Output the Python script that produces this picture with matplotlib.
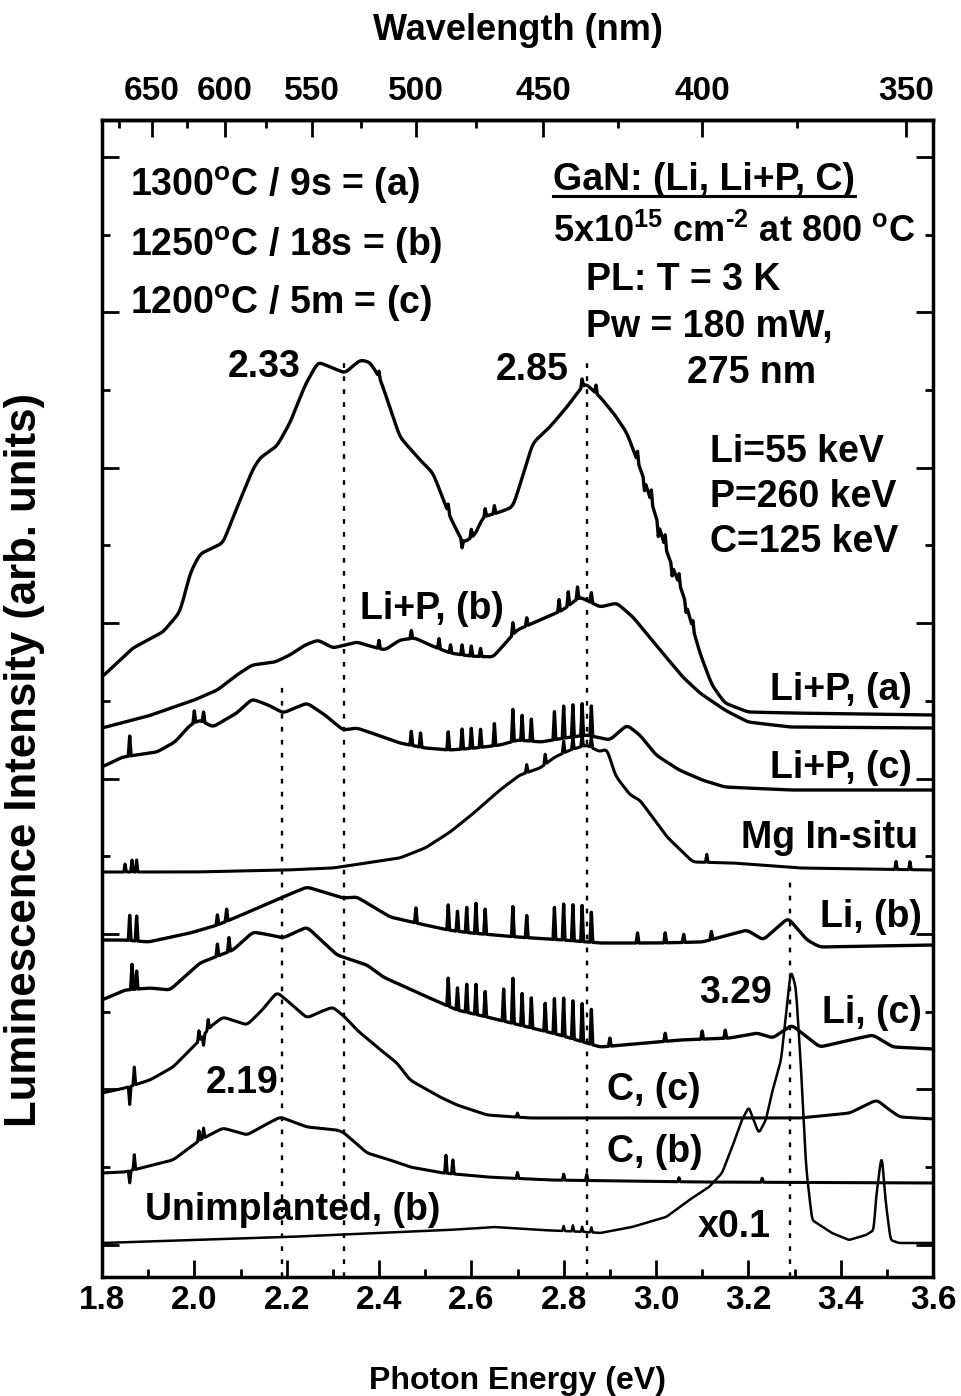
import numpy as np
import matplotlib
matplotlib.use("Agg")
import matplotlib.pyplot as plt
from matplotlib import font_manager
from matplotlib.ticker import FixedLocator, MultipleLocator, FormatStrFormatter
from matplotlib.lines import Line2D

plt.rcParams["font.family"] = ["Liberation Sans", "DejaVu Sans"]
plt.rcParams["font.weight"] = "bold"
plt.rcParams["mathtext.fontset"] = "custom"
plt.rcParams["mathtext.rm"] = "Liberation Sans:bold"
plt.rcParams["mathtext.it"] = "Liberation Sans:bold"
plt.rcParams["mathtext.bf"] = "Liberation Sans:bold"

# narrow face for the axis numbers if it is there
have_narrow = "Liberation Sans Narrow" in {f.name for f in font_manager.fontManager.ttflist}
num_family = "Liberation Sans Narrow" if have_narrow else "Liberation Sans"
num_size = 27 if have_narrow else 24

# ---- spectra (energy in eV, intensity in arb. units incl. offset)
lip_a_e = [1.800, 1.867, 1.932, 1.969, 1.991, 2.012, 2.062, 2.092, 2.127, 2.142,
           2.179, 2.207, 2.240, 2.268, 2.300, 2.326, 2.359, 2.380, 2.402, 2.445,
           2.489, 2.517, 2.554, 2.582, 2.608, 2.625, 2.662, 2.690, 2.712, 2.733,
           2.770, 2.807, 2.846, 2.879, 2.911, 2.937, 2.959, 2.980, 3.002, 3.024,
           3.058, 3.095, 3.121, 3.149, 3.199, 3.290, 3.600]
lip_a_i = [600, 629, 645, 665, 704, 723, 734, 769, 808, 819,
           831, 854, 892, 915, 909, 904, 917, 915, 899, 840,
           817, 804, 760, 734, 742, 760, 765, 770, 802, 834,
           850, 870, 894, 880, 862, 844, 817, 790, 757, 724,
           684, 624, 592, 574, 565, 564, 562]
lip_a_spk = [2.40, 2.55, 2.58, 2.60, 2.63, 2.65, 2.84, 2.87, 2.96, 2.975,
             2.99, 3.005, 3.02, 3.035, 3.05, 3.065, 3.08]
lip_a_spk_h = [6, 8, -8, 8, 8, 8, 8, 8, 10, -10, 12, -12, 12, -10, 10, -8, 8]

lip_b_e = [1.800, 1.850, 1.900, 1.950, 2.000, 2.050, 2.092, 2.125, 2.175, 2.207,
           2.240, 2.268, 2.300, 2.326, 2.352, 2.380, 2.413, 2.445, 2.478, 2.510,
           2.554, 2.597, 2.647, 2.699, 2.749, 2.798, 2.835, 2.879, 2.915, 2.950,
           3.009, 3.058, 3.095, 3.149, 3.199, 3.290, 3.600]
lip_b_i = [549, 555, 561, 569, 577, 587, 602, 612, 615, 622,
           632, 637, 629, 632, 635, 631, 627, 637, 639, 632,
           624, 621, 620, 647, 657, 667, 680, 670, 674, 660,
           627, 600, 584, 567, 555, 550, 549]
lip_b_spk = [2.40, 2.47, 2.53, 2.555, 2.58, 2.60, 2.62, 2.69, 2.72, 2.79, 2.81, 2.83, 2.86]
lip_b_spk_h = [8, 8, 10, 8, 10, 10, 8, 12, 8, 12, 14, 12, 10]

lip_c_e = [1.800, 1.845, 1.919, 1.958, 1.991, 2.012, 2.040, 2.092, 2.125, 2.160,
           2.192, 2.244, 2.283, 2.322, 2.352, 2.409, 2.445, 2.500, 2.554, 2.608,
           2.662, 2.701, 2.751, 2.801, 2.850, 2.900, 2.937, 2.965, 3.000, 3.050,
           3.100, 3.149, 3.290, 3.600]
lip_c_i = [510, 520, 525, 535, 552, 557, 550, 564, 578, 572,
           564, 574, 562, 547, 549, 540, 534, 529, 527, 529,
           532, 537, 535, 539, 542, 537, 552, 542, 522, 507,
           497, 490, 487, 487]
lip_c_spk = [1.86, 2.00, 2.02, 2.47, 2.49, 2.55, 2.58, 2.60, 2.62, 2.65,
             2.69, 2.71, 2.73, 2.78, 2.80, 2.82, 2.84, 2.86]
lip_c_spk_h = [20, 12, 10, 14, 14, 18, 20, 20, 18, 22, 32, 25, 22, 28, 32, 32, 32, 30]

mg_e = [1.800, 1.900, 2.000, 2.200, 2.300, 2.445, 2.500, 2.554, 2.600, 2.625,
        2.662, 2.705, 2.749, 2.781, 2.814, 2.850, 2.879, 2.894, 2.911, 2.944,
        2.965, 3.024, 3.080, 3.167, 3.312, 3.600]
mg_i = [405, 405, 405, 407, 409, 419, 429, 445, 462, 472,
        487, 502, 509, 520, 527, 532, 525, 529, 502, 482,
        477, 440, 415, 414, 409, 407]
mg_spk = [1.85, 1.865, 1.875, 2.72, 2.76, 2.80, 2.82, 2.84, 2.86, 3.11, 3.52, 3.55]
mg_spk_h = [8, 12, 12, 8, 10, 12, 12, 12, 10, 8, 8, 8]

li_b_e = [1.800, 1.850, 1.900, 1.991, 2.050, 2.092, 2.192, 2.244, 2.322, 2.352,
          2.424, 2.500, 2.550, 2.600, 2.700, 2.800, 2.879, 3.000, 3.100, 3.197,
          3.232, 3.286, 3.327, 3.355, 3.600]
li_b_i = [337, 337, 335, 344, 352, 360, 380, 390, 379, 380,
          360, 352, 347, 344, 340, 337, 334, 334, 335, 347,
          337, 359, 337, 330, 332]
li_b_spk = [1.86, 1.875, 2.05, 2.07, 2.48, 2.55, 2.57, 2.59, 2.61, 2.63,
            2.69, 2.72, 2.78, 2.80, 2.82, 2.84, 2.86, 2.96, 3.02, 3.06, 3.12]
li_b_spk_h = [25, 25, 10, 12, 15, 25, 20, 25, 30, 25,
              30, 22, 32, 36, 36, 36, 30, 10, 10, 8, 8]

li_c_e = [1.800, 1.850, 1.904, 1.947, 2.012, 2.084, 2.127, 2.164, 2.192, 2.244,
          2.309, 2.374, 2.409, 2.495, 2.569, 2.634, 2.705, 2.792, 2.879, 3.052,
          3.160, 3.219, 3.253, 3.294, 3.327, 3.355, 3.420, 3.470, 3.513, 3.600]
li_c_i = [277, 287, 289, 287, 314, 327, 345, 342, 339, 350,
          322, 312, 300, 282, 267, 260, 252, 242, 230, 237,
          239, 244, 239, 252, 240, 230, 237, 242, 230, 228]
li_c_spk = [1.865, 1.875, 2.05, 2.075, 2.55, 2.57, 2.59, 2.61, 2.63, 2.67,
            2.69, 2.71, 2.73, 2.76, 2.78, 2.80, 2.82, 2.84, 2.86, 2.90,
            3.02, 3.10, 3.15]
li_c_spk_h = [25, 18, 12, 14, 28, 22, 28, 30, 25, 32,
              45, 32, 30, 28, 35, 38, 38, 38, 35, 8, 8, 8, 8]

c_c_e = [1.800, 1.850, 1.904, 1.954, 2.012, 2.034, 2.062, 2.114, 2.147, 2.179,
         2.212, 2.244, 2.272, 2.300, 2.326, 2.352, 2.409, 2.439, 2.467, 2.532,
         2.569, 2.634, 2.727, 2.879, 3.312, 3.420, 3.463, 3.479, 3.500, 3.528, 3.600]
c_c_i = [184, 189, 197, 210, 237, 250, 260, 252, 267, 285,
         272, 259, 265, 270, 260, 247, 225, 214, 197, 180,
         172, 162, 159, 159, 159, 164, 174, 177, 169, 160, 158]
c_c_spk = [1.86, 1.87, 2.01, 2.02, 2.03, 2.70]
c_c_spk_h = [-18, 18, 10, -10, 10, 4]

c_b_e = [1.800, 1.850, 1.954, 2.012, 2.062, 2.114, 2.153, 2.186, 2.244, 2.309,
         2.322, 2.374, 2.424, 2.467, 2.539, 2.634, 2.770, 3.095, 3.600]
c_b_i = [104, 105, 117, 137, 149, 142, 152, 160, 150, 147,
         145, 124, 117, 110, 104, 100, 97, 95, 94]
c_b_spk = [1.86, 1.87, 2.01, 2.02, 2.545, 2.56, 2.70, 2.80, 2.85, 3.05, 3.23]
c_b_spk_h = [-12, 15, 10, 10, 18, 14, 6, 6, 6, 4, 4]

unimp_e = [1.800, 2.000, 2.200, 2.400, 2.550, 2.650, 2.750, 2.850, 2.879, 2.948,
           3.022, 3.072, 3.115, 3.143, 3.165, 3.186, 3.201, 3.217, 3.223, 3.238,
           3.251, 3.271, 3.281, 3.292, 3.303, 3.314, 3.325, 3.338, 3.381, 3.418,
           3.455, 3.472, 3.476, 3.489, 3.497, 3.508, 3.526, 3.600]
unimp_i = [34, 37, 40, 44, 47, 50, 47, 45, 44, 50,
           60, 77, 90, 104, 130, 157, 170, 150, 144, 157,
           184, 217, 260, 307, 290, 210, 110, 57, 44, 37,
           42, 47, 77, 124, 77, 37, 34, 34]
unimp_spk = [2.80, 2.82, 2.84, 2.86]
unimp_spk_h = [5, 6, 5, 5]

# peak positions marked with dotted lines (eV) and how high each line reaches
peak_e = [2.19, 2.325, 2.85, 3.29]
peak_top = [590, 922, 920, 400]

nm_major = [650, 600, 550, 500, 450, 400, 350]
nm_minor = [675, 625, 575, 525, 475, 425, 375]


def spectrum(e_pts, i_pts, spk_pos, spk_h, sig=5):
    # piecewise curve, rounded off a little, plus the narrow spikes on the traces
    e = np.arange(1.8, 3.6005, 0.001)
    y = np.interp(e, e_pts, i_pts)
    k = np.exp(-0.5 * (np.arange(-3 * sig, 3 * sig + 1) / sig) ** 2)
    y = np.convolve(np.pad(y, 3 * sig, mode="edge"), k / k.sum(), mode="valid")
    for p, h in zip(spk_pos, spk_h):
        y = y + h * np.clip(1 - np.abs(e - p) / 0.003, 0, None)
    return e, y


def e2nm(x):
    x = np.asarray(x, dtype=float)
    with np.errstate(divide="ignore"):
        return 1239.84 / x


fig = plt.figure(figsize=(9.61, 13.96), dpi=100)
ax = fig.add_axes([102 / 961, 119 / 1396, 831 / 961, 1157 / 1396])

traces = [(lip_a_e, lip_a_i, lip_a_spk, lip_a_spk_h, 2.4, 5),
          (lip_b_e, lip_b_i, lip_b_spk, lip_b_spk_h, 2.4, 5),
          (lip_c_e, lip_c_i, lip_c_spk, lip_c_spk_h, 2.4, 5),
          (mg_e, mg_i, mg_spk, mg_spk_h, 2.2, 5),
          (li_b_e, li_b_i, li_b_spk, li_b_spk_h, 2.4, 5),
          (li_c_e, li_c_i, li_c_spk, li_c_spk_h, 2.4, 5),
          (c_c_e, c_c_i, c_c_spk, c_c_spk_h, 2.2, 5),
          (c_b_e, c_b_i, c_b_spk, c_b_spk_h, 2.2, 5),
          (unimp_e, unimp_i, unimp_spk, unimp_spk_h, 1.8, 2)]
for e_pts, i_pts, sp, sh, lw, sig in traces:
    e, y = spectrum(e_pts, i_pts, sp, sh, sig)
    ax.plot(e, y, color="black", lw=lw, solid_joinstyle="round")

for pe, top in zip(peak_e, peak_top):
    ax.plot([pe, pe], [0, top], color="black", lw=1.7, ls=(0, (2, 3.5)))

ax.set_xlim(1.8, 3.6)
ax.set_ylim(0, 1157)

ax.xaxis.set_major_locator(MultipleLocator(0.2))
ax.xaxis.set_minor_locator(MultipleLocator(0.1))
ax.xaxis.set_major_formatter(FormatStrFormatter("%.1f"))
ax.yaxis.set_major_locator(FixedLocator(np.arange(32.3, 1157, 155.4)))
ax.yaxis.set_minor_locator(FixedLocator(np.arange(110.0, 1157, 155.4)))
ax.tick_params(which="both", direction="in", width=2, top=False, right=True,
               labelleft=False)
ax.tick_params(which="major", length=12, labelsize=num_size, pad=6,
               labelfontfamily=num_family)
ax.tick_params(which="minor", length=6)
for s in ax.spines.values():
    s.set_linewidth(2.5)

ax.set_xlabel("Photon Energy (eV)", fontsize=23, fontweight="bold",
              family=num_family, labelpad=36)
ax.set_ylabel("Luminescence Intensity (arb. units)", fontsize=31.5,
              fontweight="bold")
ax.yaxis.set_label_coords(-0.069, 0.447)

sec = ax.secondary_xaxis("top", functions=(e2nm, e2nm))
sec.xaxis.set_major_locator(FixedLocator(nm_major))
sec.xaxis.set_minor_locator(FixedLocator(nm_minor))
sec.xaxis.set_major_formatter(FormatStrFormatter("%d"))
sec.tick_params(which="both", direction="in", width=2)
sec.tick_params(which="major", length=12, labelsize=num_size, pad=9,
                labelfontfamily=num_family)
sec.tick_params(which="minor", length=6)
sec.spines["top"].set_linewidth(2.5)
sec.set_xlabel("Wavelength (nm)", fontsize=26, fontweight="bold", labelpad=26)

# ---- annotations
tk = dict(fontsize=27, fontweight="bold")
ax.text(1.861, 1092, r"1300$^{\mathrm{o}}$C / 9s = (a)", va="center", **tk)
ax.text(1.861, 1032, r"1250$^{\mathrm{o}}$C / 18s = (b)", va="center", **tk)
ax.text(1.861, 974, r"1200$^{\mathrm{o}}$C / 5m = (c)", va="center", **tk)

gan = ax.text(2.777, 1097, "GaN: (Li, Li+P, C)", va="center", **tk)
ax.text(2.777, 1045, r"5x10$^{15}$ cm$^{\text{-2}}$ at 800 $^{\mathrm{o}}$C",
        va="center", fontsize=26, fontweight="bold")
ax.text(2.848, 997, "PL: T = 3 K", va="center", **tk)
ax.text(2.848, 950, "Pw = 180 mW,", va="center", **tk)
ax.text(3.067, 904, "275 nm", va="center", **tk)
ax.text(3.117, 825, "Li=55 keV", va="center", **tk)
ax.text(3.117, 780, "P=260 keV", va="center", **tk)
ax.text(3.117, 735, "C=125 keV", va="center", **tk)

ax.text(2.151, 910, "2.33", ha="center", va="center", **tk)
ax.text(2.731, 907, "2.85", ha="center", va="center", **tk)
ax.text(2.103, 194, "2.19", ha="center", va="center", **tk)
ax.text(3.173, 284, "3.29", ha="center", va="center", **tk)

ax.text(2.515, 668, "Li+P, (b)", ha="center", va="center", **tk)
ax.text(3.554, 587, "Li+P, (a)", ha="right", va="center", **tk)
ax.text(3.554, 509, "Li+P, (c)", ha="right", va="center", **tk)
ax.text(3.567, 439, "Mg In-situ", ha="right", va="center", **tk)
ax.text(3.576, 360, "Li, (b)", ha="right", va="center", **tk)
ax.text(3.576, 264, "Li, (c)", ha="right", va="center", **tk)
ax.text(2.894, 187, "C, (c)", va="center", **tk)
ax.text(2.894, 125, "C, (b)", va="center", **tk)
ax.text(1.893, 67, "Unimplanted, (b)", va="center", **tk)
ax.text(3.091, 50, "x0.1", va="center", **tk)

# underline the GaN heading
fig.canvas.draw()
bb = gan.get_window_extent()
inv = fig.transFigure.inverted()
(x0, y0), (x1, _) = inv.transform([(bb.x0, bb.y0 + 2), (bb.x1, bb.y0 + 2)])
fig.add_artist(Line2D([x0, x1], [y0, y0], color="black", lw=2.2,
                      transform=fig.transFigure))

fig.savefig("out.png", dpi=100)
